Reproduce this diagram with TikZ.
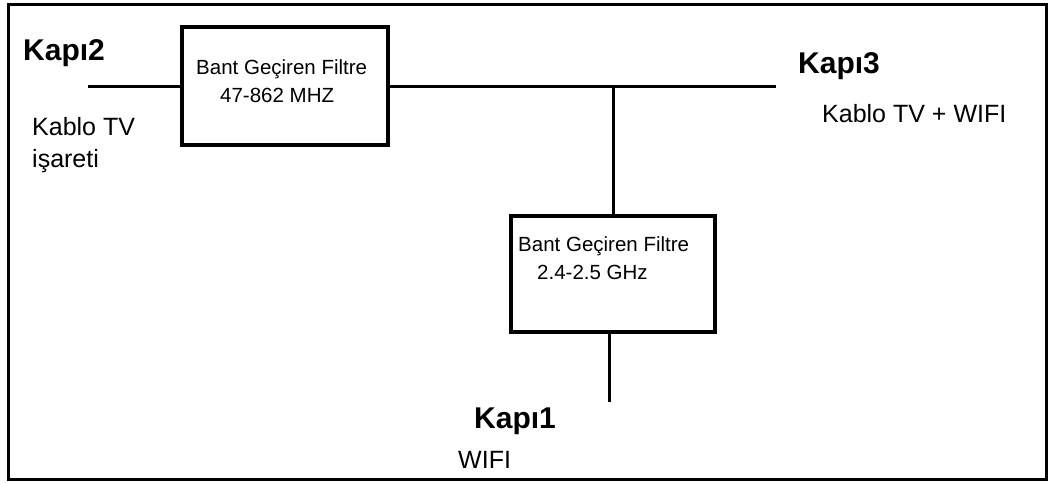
\documentclass[tikz,border=0pt]{standalone}
\usepackage{fontspec}
\setmainfont{Liberation Sans}
\begin{document}
\begin{tikzpicture}[x=1pt,y=-1pt,
  wire/.style={line width=3pt},
  filterbox/.style={draw,line width=3.5pt,rectangle,inner sep=0pt},
  boxtext/.style={anchor=base west,inner sep=0pt,font=\fontsize{20.5}{24}\selectfont},
  port/.style={anchor=base west,inner sep=0pt,font=\bfseries\fontsize{30}{34}\selectfont},
  desc/.style={anchor=base west,inner sep=0pt,font=\fontsize{25}{30}\selectfont}]
\useasboundingbox (0,0) rectangle (1048,482);
\draw[line width=3pt] (8,4) rectangle (1046,479);
% filter boxes
\node[filterbox,minimum width=206pt,minimum height=118pt] (f1) at (285,86) {};
\node[filterbox,minimum width=204pt,minimum height=116pt] (f2) at (613,274) {};
\node[boxtext] (f1a) at (196,74) {Bant Geçiren Filtre};
\node[boxtext] (f1b) at (220,102) {47-862 MHZ};
\node[boxtext] (f2a) at (518,251) {Bant Geçiren Filtre};
\node[boxtext] (f2b) at (537,279) {2.4-2.5 GHz};
% ports
\node[port] (p2) at (23,60) {Kapı2};
\node[desc] (d2a) at (32,135) {Kablo TV};
\node[desc] (d2b) at (32,167) {işareti};
\node[port] (p3) at (798,73) {Kapı3};
\node[desc] (d3) at (822,122) {Kablo TV + WIFI};
\node[port] (p1) at (474,428) {Kapı1};
\node[desc] (d1) at (458,468) {WIFI};
% wires
\coordinate (k2) at (88,86);
\coordinate (k3) at (776,86);
\coordinate (j) at (613,86);
\coordinate (k1) at (609,402);
\draw[wire] (k2) -- (f1.west);
\draw[wire] (f1.east) -- (k3);
\draw[wire] (j) -- (f2.north);
\draw[wire] (f2.south -| k1) -- (k1);
\end{tikzpicture}
\end{document}
